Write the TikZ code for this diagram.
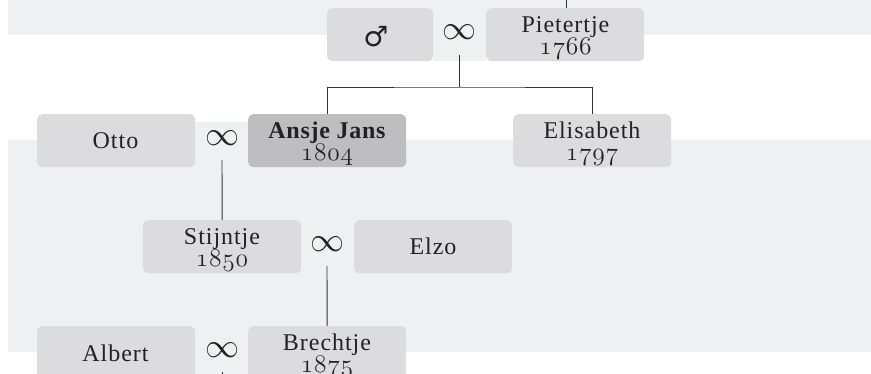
\RequirePackage{fix-cm}
\documentclass[tikz,border=0pt]{standalone}
\usepackage{fontspec}
\setmainfont{Liberation Serif}
\newfontfamily\namefont{Liberation Serif}[LetterSpace=4]
\newfontfamily\boldnamefont{Liberation Serif Bold}[LetterSpace=3]
\newfontfamily\symbfont{DejaVu Sans}
\usetikzlibrary{calc}
\definecolor{bandgray}{HTML}{EFF0F2}
\definecolor{boxfill}{HTML}{DCDCDE}
\definecolor{boxdark}{HTML}{BEBEC0}
\definecolor{ink}{HTML}{222222}
\definecolor{wire}{HTML}{333333}
\tikzset{
  person/.style={rounded corners=5pt, fill=boxfill, draw=none, minimum width=158pt,
    minimum height=53pt, anchor=north west, inner sep=0pt},
  selfbox/.style={person, fill=boxdark},
  namelbl/.style={font=\namefont\fontsize{24}{26}\selectfont, text=ink, anchor=base, inner sep=0pt},
  boldlbl/.style={font=\boldnamefont\fontsize{24}{26}\selectfont, text=ink, anchor=base, inner sep=0pt},
  yearlbl/.style={font=\fontsize{25.5}{28}\fontencoding{OML}\fontfamily{cmm}\fontseries{m}\fontshape{it}\selectfont,
    text=ink, anchor=base, inner sep=0pt},
  marriage/.style={font=\fontsize{34}{34}\selectfont, text=ink, inner sep=0pt},
  wireline/.style={draw=wire, line width=0.9pt},
  band/.style={fill=bandgray, draw=none},
}
\begin{document}
\begin{tikzpicture}[x=1pt, y=-1pt]
\useasboundingbox (0,0) rectangle (871,374);
\clip (0,0) rectangle (871,374);
% background bands
\fill[band] (8,0) rectangle (871,35);
\fill[band] (8,140) rectangle (871,352);
% couple strips
\fill[band] (433,16) rectangle (486,61);
\fill[band] (194,122) rectangle (248,167);
\fill[band] (301,228) rectangle (354,273);
\fill[band] (194,334) rectangle (248,379);
% boxes
\node[person, minimum width=106pt] (male) at (327,8) {};
\node[person] (pietertje) at (486,8) {};
\node[person] (otto) at (37,114) {};
\node[selfbox] (ansje) at (248,114) {};
\node[person] (elisabeth) at (513,114) {};
\node[person] (stijntje) at (143,220) {};
\node[person] (elzo) at (354,220) {};
\node[person] (albert) at (37,326) {};
\node[person] (brechtje) at (248,326) {};
% texts
\node[font=\symbfont\fontsize{28}{28}\selectfont, text=ink, inner sep=0pt] (malesym) at (376,36.5) {♂};
\node[namelbl] (pietertje-n) at (565.5,33) {Pietertje};
\node[yearlbl] (pietertje-y) at (565.5,54.5) {1\kern.8pt7\kern.8pt6\kern.8pt6};
\node[namelbl] (otto-n) at (115.5,149) {Otto};
\node[boldlbl] (ansje-n) at (327,138.5) {Ansje Jans};
\node[yearlbl] (ansje-y) at (327,161) {1\kern.8pt8\kern.8pt0\kern.8pt4};
\node[namelbl] (elisabeth-n) at (592,139) {Elisabeth};
\node[yearlbl] (elisabeth-y) at (592,161) {1\kern.8pt7\kern.8pt9\kern.8pt7};
\node[namelbl] (stijntje-n) at (222,245) {Stijntje};
\node[yearlbl] (stijntje-y) at (222,267) {1\kern.8pt8\kern.8pt5\kern.8pt0};
\node[namelbl] (elzo-n) at (433,255) {Elzo};
\node[namelbl] (albert-n) at (115.5,361.5) {Albert};
\node[namelbl] (brechtje-n) at (327,351) {Brechtje};
\node[yearlbl] (brechtje-y) at (327,373) {1\kern.8pt8\kern.8pt7\kern.8pt5};
% marriage symbols
\node[marriage] (inf1) at (459,32) {$\infty$};
\node[marriage] (inf2) at (222,138.5) {$\infty$};
\node[marriage] (inf3) at (327,244.5) {$\infty$};
\node[marriage] (inf4) at (222,350.5) {$\infty$};
% connectors
\coordinate (up1) at (566,0);
\coordinate (j1) at (459,87);
\coordinate (down4) at (222,390);
\draw[wireline] (up1) -- (up1 |- pietertje.north);
\draw[wireline] ([yshift=-23pt]inf1.center) -- (j1);
\draw[wireline] (ansje.north) |- (j1) -| (elisabeth.north);
\draw[wireline] ([yshift=-21.5pt]inf2.center) -- (stijntje.north);
\draw[wireline] ([yshift=-21.5pt]inf3.center) -- (brechtje.north);
\draw[wireline] ([yshift=-21.5pt]inf4.center) -- (down4);
\end{tikzpicture}
\end{document}
